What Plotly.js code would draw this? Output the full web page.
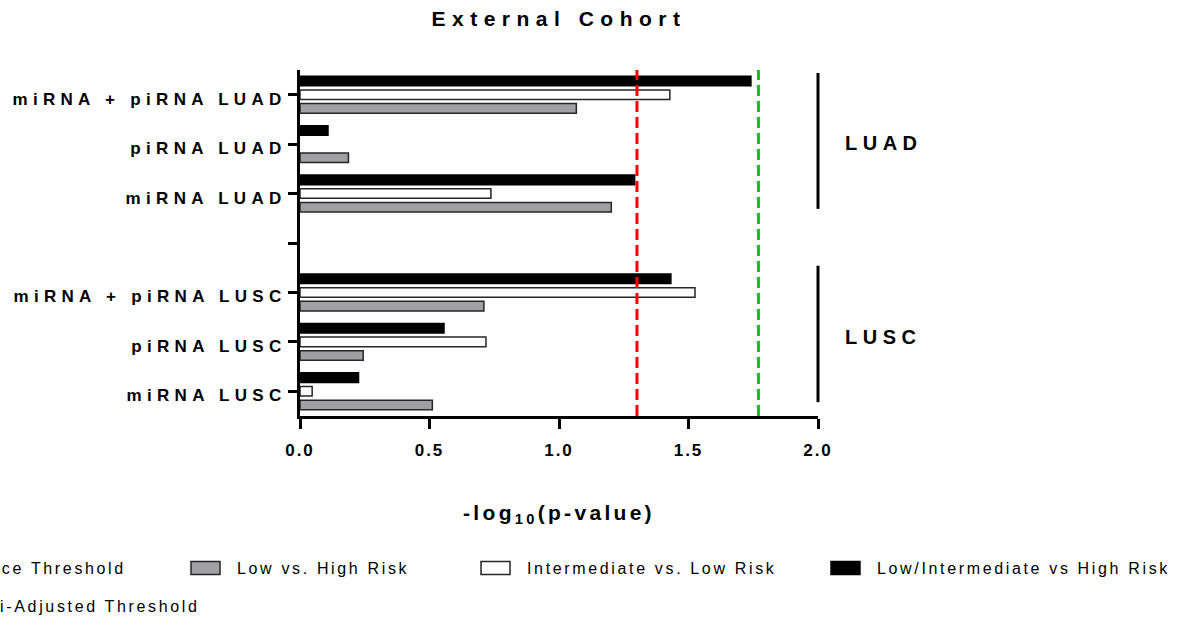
<!DOCTYPE html>
<html><head><meta charset="utf-8">
<script src="https://cdn.plot.ly/plotly-3.0.1.min.js"></script>
<style>
html,body{margin:0;padding:0;background:#fff;}
#chart{width:1186px;height:620px;}
.ytick text{letter-spacing:5.3px;}
.xtick text{letter-spacing:2px;}
.gtitle{letter-spacing:6.5px;}
.xtitle{letter-spacing:3.3px;}
.legendtext,.legend2text,.legend3text,.legend4text,.legend5text{letter-spacing:2.65px;}
.annotation-text{letter-spacing:5.5px;}
</style></head>
<body><div id="chart"></div>
<script>
// Categories, listed top to bottom as in the figure (' ' is the empty spacer row)
const categories = ['miRNA + piRNA LUAD','piRNA LUAD','miRNA LUAD',' ','miRNA + piRNA LUSC','piRNA LUSC','miRNA LUSC'];
// -log10(p-value) per series
const lowVsHigh = [1.067, 0.187, 1.202, null, 0.710, 0.244, 0.511];
const intermediateVsLow = [1.428, null, 0.737, null, 1.525, 0.718, 0.047];
const lowIntermediateVsHigh = [1.741, 0.108, 1.292, null, 1.432, 0.556, 0.226];
const seriesNames = ['Low vs. High Risk','Intermediate vs. Low Risk','Low/Intermediate vs High Risk'];
const thresholdNames = ['Significance Threshold','Bonferroni-Adjusted Threshold'];
const significanceThreshold = 1.301;
const bonferroniThreshold = 1.77;
const xTickVals = [0, 0.5, 1.0, 1.5, 2.0];
const xTickText = ['0.0','0.5','1.0','1.5','2.0'];
const groupLabels = ['LUAD','LUSC'];

const catPos = name => categories.length - 1 - categories.indexOf(name);
const barLine = {color:'#262626', width:1.5};
const FONT = 'Liberation Sans, Arial, sans-serif';

const traces = [
  {type:'scatter', mode:'lines', name:thresholdNames[0], legend:'legend',
   x:[significanceThreshold, significanceThreshold], y:[0,1], yaxis:'y2',
   line:{color:'#ff0000', width:3, dash:'11px,5px'}, hoverinfo:'skip'},
  {type:'bar', orientation:'h', name:seriesNames[0], legend:'legend2',
   x:lowVsHigh, y:categories, marker:{color:'#a0a0a3', line:barLine}},
  {type:'bar', orientation:'h', name:seriesNames[1], legend:'legend3',
   x:intermediateVsLow, y:categories, marker:{color:'#ffffff', line:barLine}},
  {type:'bar', orientation:'h', name:seriesNames[2], legend:'legend4',
   x:lowIntermediateVsHigh, y:categories, marker:{color:'#000000', line:{color:'#000', width:1.5}}},
  {type:'scatter', mode:'lines', name:thresholdNames[1], legend:'legend5',
   x:[bonferroniThreshold, bonferroniThreshold], y:[0,1], yaxis:'y2',
   line:{color:'#00cc00', width:3, dash:'11px,5px'}, hoverinfo:'skip'}
];

const legendBase = {orientation:'h', xanchor:'left', yanchor:'middle', xref:'paper', yref:'paper',
  font:{family:FONT, size:16, color:'#000'}, itemwidth:53, bgcolor:'rgba(0,0,0,0)', borderwidth:0};
const px2x = p => (p - 300) / 518;
const py2y = p => (416 - p) / 346;

const layout = {
  width:1186, height:620,
  margin:{l:300, r:368, t:70, b:204, autoexpand:false},
  paper_bgcolor:'#fff', plot_bgcolor:'#fff',
  font:{family:FONT, color:'#000'},
  title:{text:'External Cohort', font:{family:FONT, size:21, weight:'bold', color:'#000'},
         x:0.5, xref:'paper', xanchor:'center', y:1 - 19/620, yref:'container', yanchor:'middle'},
  barmode:'group', bargap:0.17, bargroupgap:0.3,
  showlegend:true,
  xaxis:{range:[0,2], tickvals:xTickVals, ticktext:xTickText, showline:true, linewidth:3, linecolor:'#000',
         ticks:'outside', ticklen:10, tickwidth:3, tickcolor:'#000', showgrid:false, zeroline:false,
         ticklabelstandoff:7,
         tickfont:{family:FONT, size:17, weight:'bold', color:'#000'}, automargin:false,
         title:{text:'-log<sub>10</sub>(p-value)', font:{family:FONT, size:21, weight:'bold', color:'#000'}, standoff:46}},
  yaxis:{type:'category', categoryorder:'array', categoryarray:categories.slice().reverse(), range:[-0.5, 6.5],
         showline:true, linewidth:3, linecolor:'#000', ticks:'outside', ticklen:9, tickwidth:3, tickcolor:'#000',
         showgrid:false, zeroline:false, automargin:false, ticklabelshift:4, ticklabelstandoff:-2,
         tickfont:{family:FONT, size:17, weight:'bold', color:'#000'}},
  yaxis2:{overlaying:'y', range:[0,1], visible:false, fixedrange:true},
  legend: Object.assign({}, legendBase, {x:px2x(-157), y:py2y(568)}),
  legend2: Object.assign({}, legendBase, {x:px2x(174), y:py2y(568)}),
  legend3: Object.assign({}, legendBase, {x:px2x(464), y:py2y(568)}),
  legend4: Object.assign({}, legendBase, {x:px2x(814), y:py2y(568)}),
  legend5: Object.assign({}, legendBase, {x:px2x(-157), y:py2y(606)}),
  shapes:[
    {type:'line', xref:'paper', yref:'y', x0:1, x1:1,
     y0:catPos('miRNA + piRNA LUAD') + 0.44, y1:catPos('miRNA LUAD') - 0.31, line:{color:'#000', width:3}},
    {type:'line', xref:'paper', yref:'y', x0:1, x1:1,
     y0:catPos('miRNA + piRNA LUSC') + 0.54, y1:catPos('miRNA LUSC') - 0.22, line:{color:'#000', width:3}}
  ],
  annotations:[
    {text:groupLabels[0], xref:'paper', yref:'y', x:1, y:catPos('piRNA LUAD'), xanchor:'left', yanchor:'middle',
     xshift:25, yshift:1, showarrow:false, font:{family:FONT, size:20, weight:'bold', color:'#000'}},
    {text:groupLabels[1], xref:'paper', yref:'y', x:1, y:catPos('piRNA LUSC'), xanchor:'left', yanchor:'middle',
     xshift:25, yshift:4.5, showarrow:false, font:{family:FONT, size:20, weight:'bold', color:'#000'}}
  ]
};

Plotly.newPlot('chart', traces, layout, {staticPlot:true, displayModeBar:false}).then(gd => {
  ['legend2','legend3','legend4'].forEach(id => {
    gd.querySelectorAll('g.' + id + ' .legendpoints path').forEach(p => p.setAttribute('d', 'M14.5,6.5H-14.5V-6.5H14.5Z'));
  });
});
</script>
</body></html>
